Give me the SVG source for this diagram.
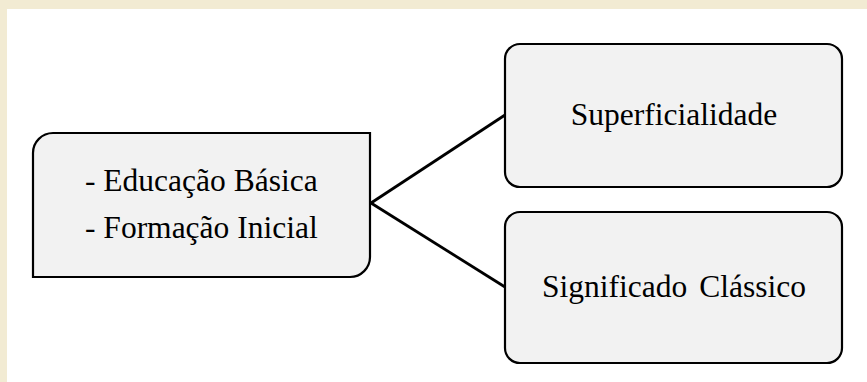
<svg xmlns="http://www.w3.org/2000/svg" width="867" height="382" viewBox="0 0 867 382">
<style>
.box{fill:#F2F2F2;stroke:#000;stroke-width:2.2}
.lbl{font-family:"Liberation Serif","Times New Roman",serif;font-size:31.5px;fill:#000}
.conn{stroke:#000;stroke-width:2.8;fill:none}
</style>
<rect x="0" y="0" width="867" height="382" fill="#F2EBD3"/>
<rect x="7" y="9" width="860" height="373" fill="#FFFFFF"/>
<g id="connectors">
<line class="conn" x1="371" y1="203" x2="505" y2="115"/>
<line class="conn" x1="371" y1="203" x2="505" y2="287"/>
</g>
<g id="node-left">
<path class="box" d="M53 133 H370 V257 A20 20 0 0 1 350 277 H33 V153 A20 20 0 0 1 53 133 Z"/>
<text class="lbl" font-family="Liberation Serif, serif" x="85" y="191">- Educação Básica</text>
<text class="lbl" font-family="Liberation Serif, serif" x="85" y="238">- Formação Inicial</text>
</g>
<g id="node-superficialidade">
<rect class="box" x="505" y="44" width="337" height="143" rx="15" ry="15"/>
<text class="lbl" font-family="Liberation Serif, serif" x="674" y="125" text-anchor="middle">Superficialidade</text>
</g>
<g id="node-significado">
<rect class="box" x="505" y="212" width="337" height="151" rx="15" ry="15"/>
<text class="lbl" font-family="Liberation Serif, serif" x="674" y="297" text-anchor="middle" word-spacing="4">Significado Clássico</text>
</g>
</svg>
